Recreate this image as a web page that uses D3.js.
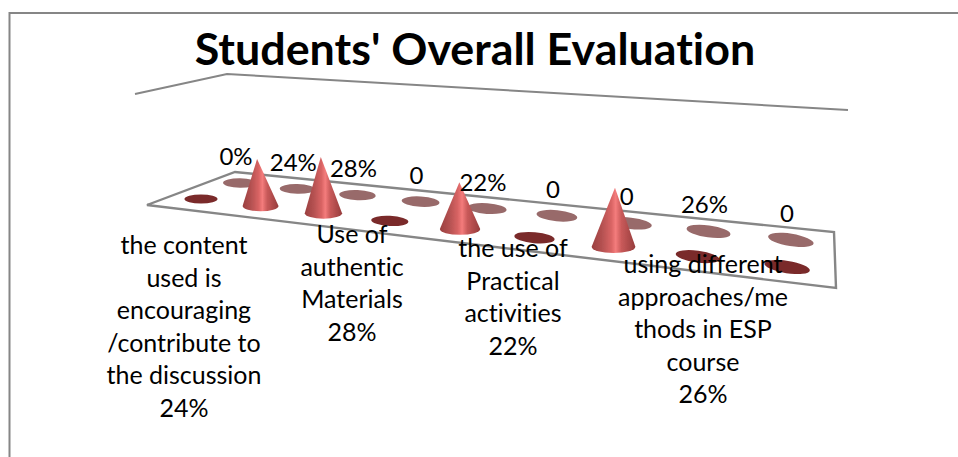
<!DOCTYPE html>
<html>
<head>
<meta charset="utf-8">
<style>html,body{margin:0;padding:0;background:#fff}svg{display:block}text{font-family:Lato,"Open Sans",sans-serif;fill:#000;font-variant-ligatures:none;font-feature-settings:"liga" 0}</style>
<script src="https://cdn.jsdelivr.net/npm/d3@7"></script>
</head>
<body>
<svg id="chart" width="958" height="457"></svg>
<script>
const title = "Students' Overall Evaluation";
const positions = [0,1,2,3,4,5,6,7,8];
const frontValues = [0,24,28,0,22,0,26,0,0];
const backLabels = ["0%","24%","28%","0","22%","0","0","26%","0"];
const categories = [
  ["the content","used is","encouraging","/contribute to","the discussion","24%"],
  ["Use of","authentic","Materials","28%"],
  ["the use of","Practical","activities","22%"],
  ["using different","approaches/me","thods in ESP","course","26%"]
];
const categoryAnchors = [[184,254],[352,243],[513,257],[703,273]];

const W=958,H=457;
const svg=d3.select("#chart");
const defs=svg.append("defs");
const soft=defs.append("filter").attr("id","soft");
soft.append("feGaussianBlur").attr("stdDeviation",0.45);
const grad=defs.append("linearGradient").attr("id","cone").attr("x1",0).attr("x2",1).attr("y1",0).attr("y2",0);
[[0,"#9a3f3f"],[0.25,"#b65252"],[0.45,"#d96464"],[0.55,"#f47c7c"],[0.68,"#c95a5a"],[1,"#963c3c"]]
  .forEach(s=>grad.append("stop").attr("offset",s[0]).attr("stop-color",s[1]));

// Perspective of the floor: each row recedes by a one-dimensional projective map
const rowView = {
  front:{x0:201,bx:52.8,y0:199,by:1.56,c:-0.026},
  back:{x0:240,bx:50.35,y0:183,by:1.5,c:-0.0234}
};
const project=(i,row)=>{const r=rowView[row],w=1+r.c*i;return [(r.x0+r.bx*i)/w,(r.y0+r.by*i)/w];};
const rxScale=d3.scaleLinear().domain([200,790]).range([16.5,23]);
const ryScale=d3.scaleLinear().domain([200,790]).range([4.6,6.2]);
const tiltScale=d3.scaleLinear().domain([200,790]).range([0,9]);
const heightScale=d3.scaleLinear().domain([260,614]).range([1.95,2.27]);
const apexShift=d3.scaleLinear().domain([260,614]).range([-3.5,1.5]);
const front=positions.map((p,i)=>{const q=project(p,"front");return {x:q[0],y:q[1],v:frontValues[i]};});
const back=positions.map((p,i)=>{const q=project(p,"back");return {x:q[0],y:q[1],label:backLabels[i]};});

const line=d3.line();
const gfx=svg.append("g").attr("filter","url(#soft)");
gfx.append("path").attr("d",line([[W,13],[9.5,13],[9.5,H]])).attr("fill","none").attr("stroke","#868686").attr("stroke-width",2);
gfx.append("path").attr("d",line([[135,94],[227,74],[848,110]])).attr("fill","none").attr("stroke","#868686").attr("stroke-width",2);
gfx.append("path").attr("d",line([[147,205],[235,172],[834,232],[836,288]])+"Z").attr("fill","#fff").attr("stroke","#868686").attr("stroke-width",2.4);

function dot(sel,cls,fill){
  return sel.attr("class",cls).attr("cx",d=>d.x).attr("cy",d=>d.y)
    .attr("rx",d=>rxScale(d.x)).attr("ry",d=>ryScale(d.x))
    .attr("transform",d=>`rotate(${tiltScale(d.x)} ${d.x} ${d.y})`).attr("fill",fill);
}
gfx.selectAll(".back").data(back).join("ellipse").call(dot,"back","#986a6a");
gfx.selectAll(".flat").data(front.filter(d=>d.v===0)).join("ellipse").call(dot,"flat","#7a2a2a");
gfx.selectAll(".coneMark").data(front.filter(d=>d.v>0)).join("path").attr("class","coneMark")
  .attr("fill","url(#cone)")
  .attr("d",d=>{
    const rx=rxScale(d.x)+0.8,ry=ryScale(d.x)+0.5,h=d.v*heightScale(d.x);
    return `M${d.x-rx},${d.y} L${d.x+apexShift(d.x)},${d.y-h} L${d.x+rx},${d.y} A${rx},${ry} 0 0 1 ${d.x-rx},${d.y} Z`;
  });

svg.selectAll(".dl").data(back).join("text").attr("class","dl")
  .attr("x",d=>d.x-4).attr("y",d=>d.y-18).attr("text-anchor","middle").attr("font-size",24)
  .text(d=>d.label);
categories.forEach((lines,i)=>{
  const t=svg.append("text").attr("text-anchor","middle").attr("font-size",25);
  lines.forEach((s,j)=>t.append("tspan").attr("x",categoryAnchors[i][0]).attr("y",categoryAnchors[i][1]+j*32.6).text(s));
});
svg.append("text").attr("x",475).attr("y",65).attr("text-anchor","middle").attr("font-size",44.8).attr("font-weight",700).text(title);
</script>
</body>
</html>
